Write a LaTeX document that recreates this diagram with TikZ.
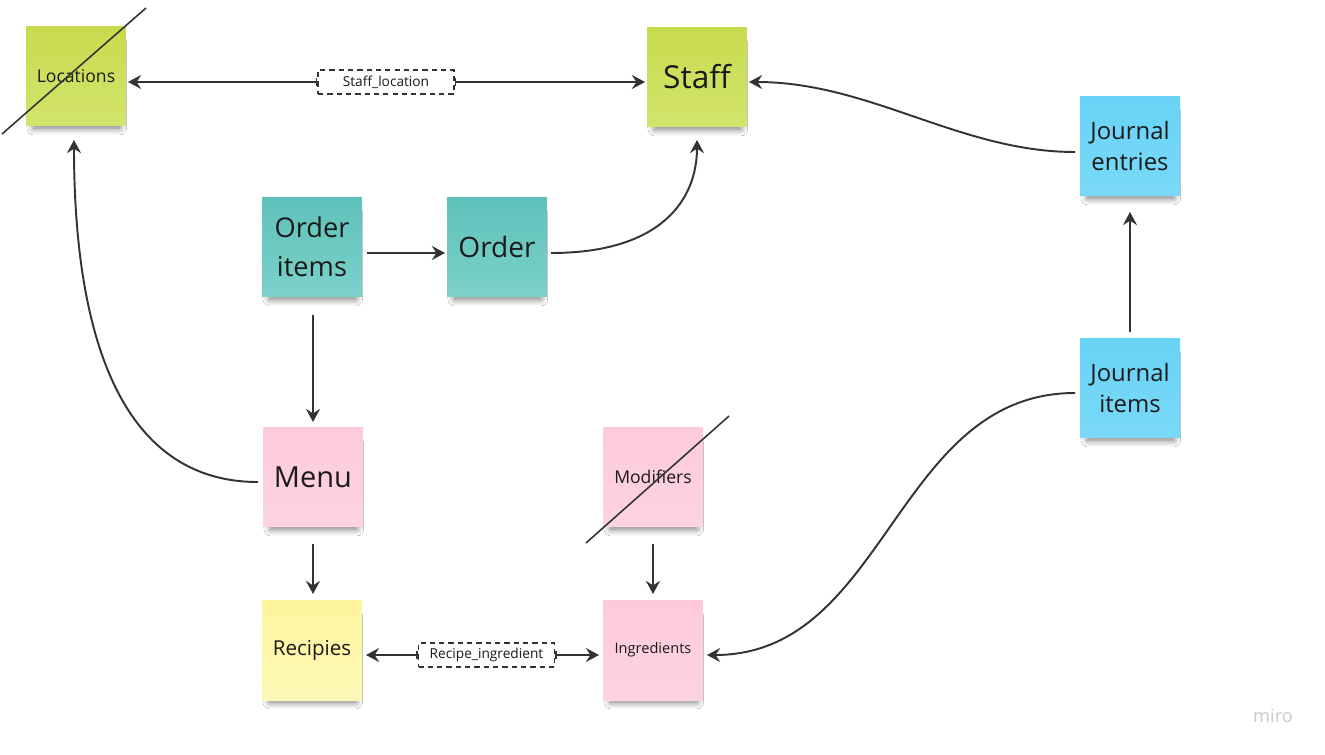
\documentclass[tikz,border=0pt]{standalone}
\usepackage{fontspec}
\setmainfont{Open Sans}
\usepackage{tikz}
\usetikzlibrary{arrows.meta,calc,shadows.blur,positioning}

\definecolor{notelime}{HTML}{C8DB4E}
\definecolor{notelimeb}{HTML}{D3E46C}
\definecolor{noteteal}{HTML}{5EC2B9}
\definecolor{notetealb}{HTML}{7CD1C9}
\definecolor{noteblue}{HTML}{67D3F6}
\definecolor{notebluesb}{HTML}{7AD9F8}
\definecolor{notepink}{HTML}{FDCADC}
\definecolor{notepinkb}{HTML}{FDD3E2}
\definecolor{noteyellow}{HTML}{FDF59E}
\definecolor{noteyellowb}{HTML}{FEF8B6}
\definecolor{inkgray}{HTML}{333333}
\definecolor{textdark}{HTML}{1A1A1A}
\definecolor{mirogray}{HTML}{C9C9D2}

\tikzset{
  mirotip/.tip={Stealth[length=7.5pt,width=8pt,inset=2.6pt]},
  note/.style={minimum width=2cm, minimum height=2cm, inner sep=2pt, outer sep=0pt,
    align=center, text=textdark,
    blur shadow={shadow xshift=0.5pt, shadow yshift=-6pt, shadow scale=0.86,
      shadow blur radius=4.5pt, shadow blur steps=12, shadow opacity=55}},
  limenote/.style={note, top color=notelime, bottom color=notelimeb},
  tealnote/.style={note, top color=noteteal, bottom color=notetealb},
  bluenote/.style={note, top color=noteblue, bottom color=notebluesb},
  pinknote/.style={note, top color=notepink, bottom color=notepinkb},
  yellownote/.style={note, top color=noteyellow, bottom color=noteyellowb},
  conn/.style={draw=inkgray, line width=1.1pt, -mirotip},
  joinline/.style={draw=inkgray, line width=1.1pt, {Bar[width=5pt,line width=0.9pt]}-mirotip},
  joinbox/.style={draw=inkgray, dash pattern=on 3pt off 2.3pt, line width=0.9pt,
    minimum width=2.72cm, minimum height=0.48cm, inner sep=0pt, fill=white,
    text=textdark, font=\fontsize{7.8}{9}\selectfont},
  strike/.style={draw=inkgray, line width=0.9pt}
}

\begin{document}
\begin{tikzpicture}[x=0.02cm, y=-0.02cm]
\useasboundingbox[fill=white] (0,0) rectangle (1325,754);

% sticky notes
\node[limenote, font=\fontsize{10}{12}\selectfont] (loc) at (76,76) {Locations};
\node[limenote, font=\fontsize{18}{22}\selectfont] (staff) at (697,77) {Staff};
\node[bluenote, font=\fontsize{13.6}{18}\selectfont] (jentries) at (1130,146) {Journal\\entries};
\node[tealnote, font=\fontsize{15.5}{22.5}\selectfont] (oitems) at (312,247) {Order\\items};
\node[tealnote, font=\fontsize{16}{20}\selectfont] (order) at (497,247) {Order};
\node[bluenote, font=\fontsize{13.6}{18}\selectfont] (jitems) at (1130,388) {Journal\\items};
\node[pinknote, font=\fontsize{16.5}{20}\selectfont] (menu) at (313,477) {Menu};
\node[pinknote, font=\fontsize{10}{12}\selectfont] (modif) at (653,477) {Modifiers};
\node[yellownote, font=\fontsize{11.7}{14}\selectfont] (rec) at (312,650) {Recipies};
\node[pinknote, font=\fontsize{8.3}{10}\selectfont] (ingr) at (653,650) {Ingredients};

% crossed out
\draw[strike] (2,134) -- (146,8);
\draw[strike] (586,543) -- (729,416);

% join tables
\node[joinbox] (stloc) at (386,82) {Staff\_location};
\node[joinbox] (recing) at (486.5,655) {Recipe\_ingredient};

\draw[joinline] (stloc.west) -- ($(stloc.west -| loc.east)+(2,0)$);
\draw[joinline] (stloc.east) -- ($(stloc.east -| staff.west)+(-2,0)$);
\draw[joinline] (recing.west) -- ($(recing.west -| rec.east)+(4,0)$);
\draw[joinline] (recing.east) -- ($(recing.east -| ingr.west)+(-4,0)$);

% relations
\draw[conn] ($(oitems.east)+(5,6)$) -- ($(order.west)+(-2,6)$);
\draw[conn] ($(oitems.south)+(1,18)$) -- ($(menu.north)+(0,-5)$);
\draw[conn] ($(menu.south)+(0,17)$) -- ($(rec.north)+(1,-6)$);
\draw[conn] ($(modif.south)+(0,17)$) -- ($(ingr.north)+(0,-6)$);
\draw[conn] ($(jitems.north)+(0,-6)$) -- ($(jentries.south)+(0,16)$);
\draw[conn] ($(order.east)+(4,6)$) .. controls +(110,0) and +(0,60) .. ($(staff.south)+(0,13)$);
\draw[conn] ($(menu.west)+(-5,5)$) .. controls +(-140,0) and +(0,190) .. ($(loc.south)+(-2,14)$);
\draw[conn] ($(jentries.west)+(-5,6)$) .. controls +(-115,0) and +(121,0) .. ($(staff.east)+(2,5)$);
\draw[conn] ($(jitems.west)+(-5,5)$) .. controls +(-180,0) and +(180,0) .. ($(ingr.east)+(4,5)$);

\node[text=mirogray, font=\fontsize{10.4}{12}\selectfont] (logo) at (1273,716) {miro};
\end{tikzpicture}
\end{document}
